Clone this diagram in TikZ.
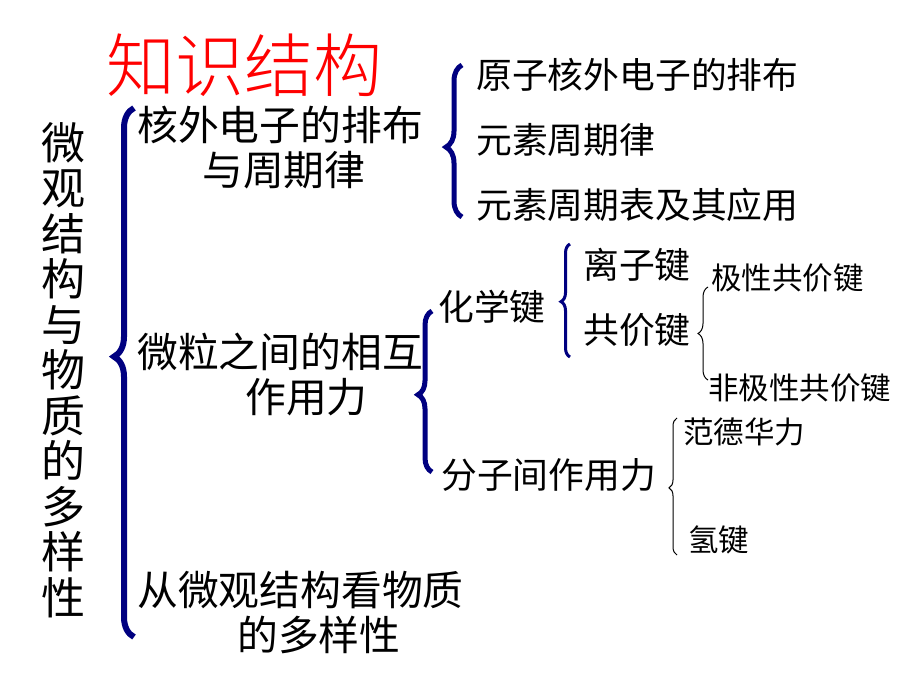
\documentclass[tikz,border=0pt]{standalone}
\usepackage{fontspec}
\newfontfamily\cjk{Noto Sans CJK SC}
\newfontfamily\cjklight{Noto Sans CJK SC Light}
\usetikzlibrary{decorations.pathreplacing}
\definecolor{bracenavy}{RGB}{0,0,128}
\definecolor{titlered}{RGB}{255,0,0}
\tikzset{
  big/.style={anchor=west,inner sep=0pt,font=\cjk\fontsize{40.8}{48}\selectfont},
  mid/.style={anchor=west,inner sep=0pt,font=\cjk\fontsize{35.8}{42}\selectfont},
  small/.style={anchor=west,inner sep=0pt,font=\cjk\fontsize{30.5}{36}\selectfont},
  bracket/.style={decorate,decoration={brace,amplitude=#1}},
}
\begin{document}
\begin{tikzpicture}[x=1pt,y=-1pt]
\useasboundingbox (0,0) rectangle (920,690);
% title and the vertical heading
\node[anchor=west,inner sep=0pt,text=titlered,font=\cjklight\fontsize{69}{80}\selectfont] (title) at (106,65) {知识结构};
\node[inner sep=0pt,align=center,font=\cjk\fontsize{44}{45.5}\selectfont] (topic) at (63,370)
  {微\\观\\结\\构\\与\\物\\质\\的\\多\\样\\性};
% first level
\node[big] (shell) at (137,125) {核外电子的排布};
\node[big] (shelltwo) at (202,170) {与周期律};
\node[big] (force) at (137,352) {微粒之间的相互};
\node[big] (forcetwo) at (245,397) {作用力};
\node[big] (variety) at (137,590) {从微观结构看物质};
\node[big] (varietytwo) at (237,635) {的多样性};
% second level
\node[mid] (arrange) at (476,75) {原子核外电子的排布};
\node[mid] (law) at (476,140) {元素周期律};
\node[mid] (table) at (476,205) {元素周期表及其应用};
\node[mid] (bond) at (438,307) {化学键};
\node[mid] (inter) at (441,475) {分子间作用力};
% third level
\node[mid] (ionic) at (583,265) {离子键};
\node[mid] (covalent) at (583,330) {共价键};
\node[small] (polar) at (711,278) {极性共价键};
\node[small] (nonpolar) at (708,388) {非极性共价键};
\node[small] (vdw) at (683,432) {范德华力};
\node[small] (hbond) at (688,540) {氢键};
% braces
\coordinate (ba) at (134,637); \coordinate (bb) at (134,108);
\coordinate (bc) at (462,217); \coordinate (bd) at (462,65);
\coordinate (be) at (432,472); \coordinate (bf) at (432,311);
\coordinate (bg) at (570,357); \coordinate (bh) at (570,244);
\coordinate (bi) at (708,380); \coordinate (bj) at (708,287);
\coordinate (bk) at (677,555); \coordinate (bl) at (677,418);
\draw[bracenavy,line width=6pt,bracket=20pt,decoration={aspect=0.53}] (ba) -- (bb);
\draw[bracenavy,line width=5pt,bracket=16pt,decoration={aspect=0.46}] (bc) -- (bd);
\draw[bracenavy,line width=5pt,bracket=14pt,decoration={aspect=0.48}] (be) -- (bf);
\draw[bracenavy,line width=3pt,bracket=9pt,decoration={aspect=0.49}] (bg) -- (bh);
\draw[black,line width=1pt,bracket=10pt,decoration={aspect=0.5}] (bi) -- (bj);
\draw[black,line width=1pt,bracket=8pt,decoration={aspect=0.49}] (bk) -- (bl);
\end{tikzpicture}
\end{document}
